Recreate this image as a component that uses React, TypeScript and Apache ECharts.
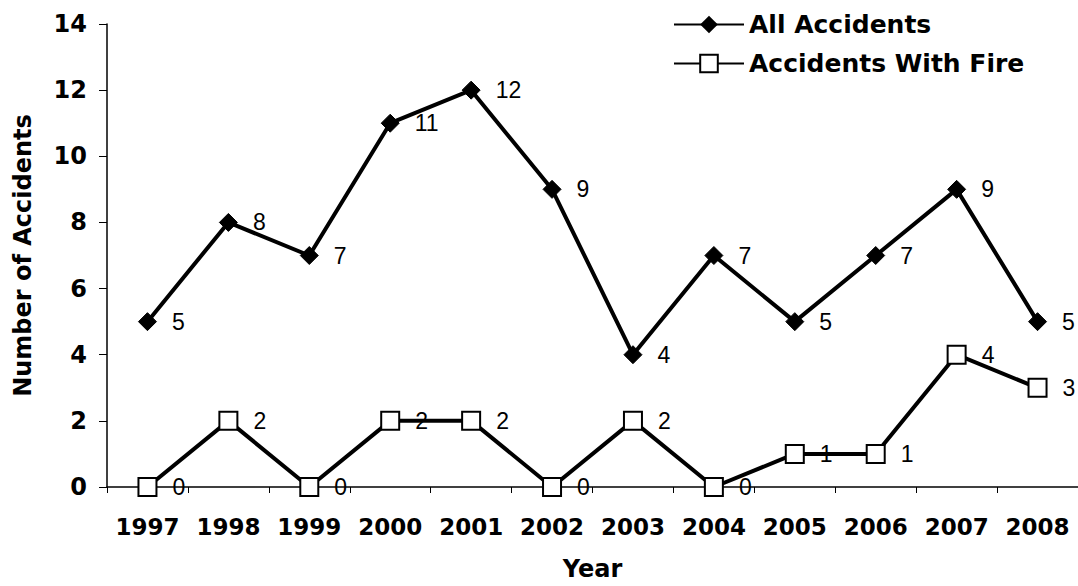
import React, { useEffect, useRef } from "react";
import * as echarts from "echarts";

const years = ["1997", "1998", "1999", "2000", "2001", "2002", "2003", "2004", "2005", "2006", "2007", "2008"];
const allAccidents = [5, 8, 7, 11, 12, 9, 4, 7, 5, 7, 9, 5];
const fireAccidents = [0, 2, 0, 2, 2, 0, 2, 0, 1, 1, 4, 3];

const BOLD = "DejaVu Sans, Liberation Sans, Arial, sans-serif";
const REG = "Liberation Sans, Arial, sans-serif";

export default function App() {
  const ref = useRef<HTMLDivElement>(null);
  useEffect(() => {
    const chart = echarts.init(ref.current!, null, { renderer: "svg" });
    chart.setOption({
      animation: false,
      backgroundColor: "#ffffff",
      textStyle: { fontFamily: REG },
      grid: { left: 107, right: 0, top: 24, bottom: 99, containLabel: false, outerBoundsMode: "none" },
      legend: {
        orient: "vertical",
        left: 668,
        top: 7,
        itemWidth: 70,
        itemHeight: 22,
        itemGap: 14,
        textStyle: { fontFamily: BOLD, fontSize: 25, fontWeight: "bold", color: "#000", padding: [0, 0, 0, 0] },
        data: ["All Accidents", "Accidents With Fire"],
      },
      xAxis: {
        type: "category",
        data: years,
        boundaryGap: true,
        name: "Year",
        nameLocation: "middle",
        nameGap: 70,
        nameTextStyle: { fontFamily: BOLD, fontSize: 24, fontWeight: "bold", color: "#000" },
        axisLine: { lineStyle: { color: "#000", width: 1.5 } },
        axisTick: { show: true, inside: false, length: 6, interval: 0, lineStyle: { color: "#000" } },
        axisLabel: { interval: 0, hideOverlap: false, fontFamily: BOLD, fontSize: 23, fontWeight: "bold", color: "#000", margin: 28 },
      },
      yAxis: {
        type: "value",
        min: 0,
        max: 14,
        interval: 2,
        name: "Number of Accidents",
        nameLocation: "middle",
        nameGap: 72,
        nameTextStyle: { fontFamily: BOLD, fontSize: 24, fontWeight: "bold", color: "#000" },
        axisLine: { show: true, lineStyle: { color: "#000", width: 1.5 } },
        axisTick: { show: true, inside: false, length: 8, lineStyle: { color: "#000" } },
        axisLabel: { fontFamily: BOLD, fontSize: 24, fontWeight: "bold", color: "#000", margin: 20 },
        splitLine: { show: false },
      },
      series: [
        {
          name: "All Accidents",
          type: "line",
          data: allAccidents,
          symbol: "diamond",
          symbolSize: 18,
          lineStyle: { color: "#000", width: 4 },
          itemStyle: { color: "#000", borderColor: "#000" },
          label: { show: true, position: "right", distance: 15, fontFamily: REG, fontSize: 23, color: "#000" },
        },
        {
          name: "Accidents With Fire",
          type: "line",
          data: fireAccidents,
          symbol: "rect",
          symbolSize: 18,
          lineStyle: { color: "#000", width: 4 },
          itemStyle: { color: "#fff", borderColor: "#000", borderWidth: 2 },
          label: { show: true, position: "right", distance: 15, fontFamily: REG, fontSize: 23, color: "#000" },
        },
      ],
    });
    return () => chart.dispose();
  }, []);
  return <div ref={ref} style={{ width: 1078, height: 586, position: "absolute", left: 0, top: 0 }} />;
}
